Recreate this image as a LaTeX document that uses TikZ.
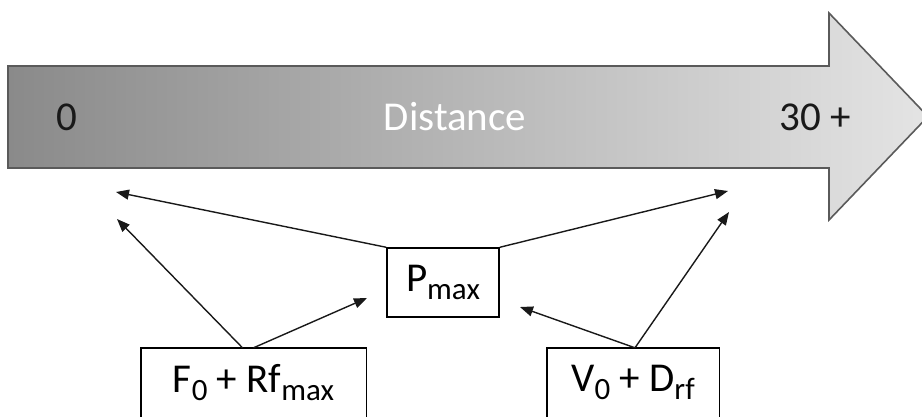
\documentclass[tikz,border=0pt]{standalone}
\usepackage{fontspec}
\setmainfont{Carlito}
\usetikzlibrary{arrows.meta}
\definecolor{shadeL}{RGB}{138,138,138}
\definecolor{shadeR}{RGB}{228,228,228}
\definecolor{outline}{RGB}{90,90,90}
\definecolor{txt}{RGB}{25,25,25}
\newcommand{\sbs}[1]{\raisebox{-0.2em}{\fontsize{31}{34}\selectfont #1}}
\tikzset{
  x=1pt, y=-1pt,
  lbl/.style={font=\fontsize{41}{48}\selectfont, inner sep=0pt},
  boxnode/.style={draw=black, line width=1.4pt, fill=white, inner sep=0pt, font=\fontsize{41}{48}\selectfont},
  opennode/.style={inner sep=0pt, font=\fontsize{41}{48}\selectfont},
  boxline/.style={draw=black, line width=1.4pt},
  conn/.style={draw=black!90, line width=1.4pt, -{Triangle[length=13pt,width=10pt]}}
}
\begin{document}
\begin{tikzpicture}
\useasboundingbox (0,0) rectangle (922,416);
% big arrow
\path[left color=shadeL, right color=shadeR, draw=outline, line width=1.6pt]
  (8,66) -- (829,66) -- (829,13) -- (928,116.5) -- (829,220) -- (829,168) -- (8,168) -- cycle;
\node[lbl, text=txt] (zero) at (67,117) {0};
\node[lbl, text=white] (dist) at (455,117) {Distance};
\node[lbl, text=txt] (thirty) at (815,117) {30 +};
% boxes
\node[boxnode, minimum width=112pt, minimum height=69pt] (P) at (443,282.5) {P\sbs{max}};
\node[opennode, minimum width=225pt, minimum height=69pt] (F) at (253.5,382.5) {F\sbs{0} + Rf\sbs{max}};
\node[opennode, minimum width=172pt, minimum height=69pt] (V) at (633,382.5) {V\sbs{0} + D\sbs{rf}};
\draw[boxline] ([yshift=-10pt]F.south west) -- (F.north west) -- (F.north east) -- ([yshift=-10pt]F.south east);
\draw[boxline] ([yshift=-10pt]V.south west) -- (V.north west) -- (V.north east) -- ([yshift=-10pt]V.south east);
% free ends
\coordinate (e1) at (116,192);
\coordinate (e2) at (117,219);
\coordinate (e3) at (367,298);
\coordinate (e4) at (728,191);
\coordinate (e5) at (729,212);
\coordinate (e6) at (520,307);
% connectors
\draw[conn] (P.north west) -- (e1);
\draw[conn] ([xshift=-11pt]F.north) -- (e2);
\draw[conn] (F.north) -- (e3);
\draw[conn] (P.north east) -- (e4);
\draw[conn] ([xshift=2pt]V.north) -- (e5);
\draw[conn] ([xshift=2pt]V.north) -- (e6);
\end{tikzpicture}
\end{document}
